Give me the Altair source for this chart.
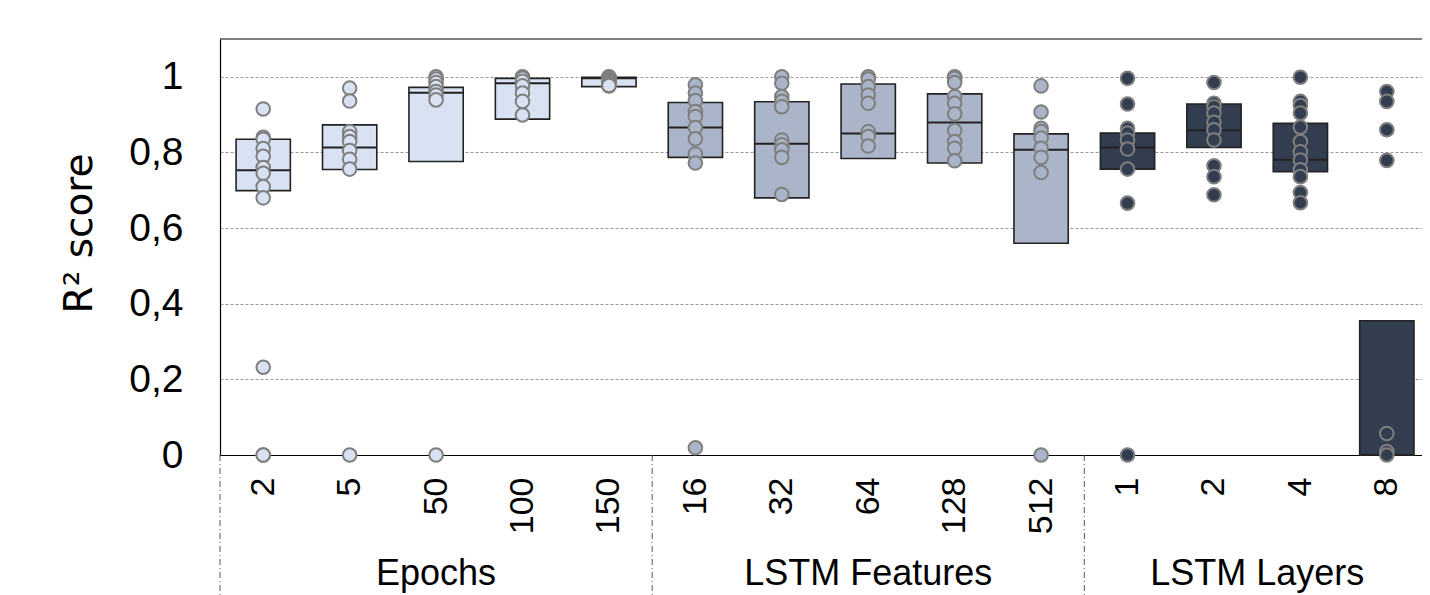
import altair as alt
import pandas as pd

groups = ["Epochs"] * 5 + ["LSTM Features"] * 5 + ["LSTM Layers"] * 4
labels = ["2", "5", "50", "100", "150", "16", "32", "64", "128", "512", "1", "2", "4", "8"]
group_names = ["Epochs", "LSTM Features", "LSTM Layers"]
group_colors = ["#d8e2f3", "#aab5c9", "#323d50"]
group_centers = [2.5, 7.5, 12.0]
separators = [0, 5, 10]

q1 = [0.699, 0.755, 0.776, 0.888, 0.974, 0.787, 0.680, 0.784, 0.772, 0.560, 0.756, 0.813, 0.749, 0.0]
med = [0.753, 0.813, 0.958, 0.983, 0.996, 0.866, 0.823, 0.850, 0.879, 0.807, 0.813, 0.859, 0.781, 0.0]
q3 = [0.835, 0.873, 0.972, 0.996, 0.999, 0.932, 0.934, 0.981, 0.955, 0.849, 0.851, 0.928, 0.877, 0.355]

points = [
    [0.915, 0.84, 0.835, 0.81, 0.79, 0.76, 0.745, 0.71, 0.68, 0.232, 0.0, 0.0],
    [0.97, 0.936, 0.855, 0.842, 0.829, 0.805, 0.782, 0.756, 0.0],
    [1.0, 0.994, 0.985, 0.974, 0.961, 0.952, 0.939, 0.0],
    [1.0, 0.996, 0.988, 0.976, 0.957, 0.935, 0.899],
    [0.976, 0.978, 0.98, 0.982, 0.984, 0.986, 0.988, 0.99, 0.992, 0.994, 0.996, 0.998, 1.0,
     0.999, 0.997, 0.995, 0.993, 0.991, 0.989, 0.987, 0.985, 0.983, 0.981, 0.979, 0.977],
    [0.979, 0.957, 0.937, 0.908, 0.895, 0.866, 0.836, 0.796, 0.772, 0.019],
    [1.0, 0.983, 0.948, 0.935, 0.921, 0.833, 0.82, 0.807, 0.787, 0.689],
    [1.0, 0.994, 0.974, 0.952, 0.93, 0.855, 0.842, 0.817],
    [1.0, 0.996, 0.985, 0.948, 0.93, 0.902, 0.858, 0.829, 0.811, 0.778],
    [0.976, 0.907, 0.864, 0.855, 0.838, 0.811, 0.787, 0.747, 0.0],
    [0.996, 0.928, 0.864, 0.851, 0.833, 0.809, 0.756, 0.666, 0.0],
    [0.985, 0.93, 0.921, 0.904, 0.88, 0.86, 0.833, 0.765, 0.736, 0.688],
    [0.999, 0.935, 0.924, 0.904, 0.867, 0.829, 0.802, 0.78, 0.754, 0.736, 0.694, 0.667],
    [0.961, 0.935, 0.86, 0.779, 0.057, 0.009, 0.0],
]

X_MAX = 13.907  # visible part of the 14 category slots (last slot is cut off at the right edge)

half = 0.314
box_df = pd.DataFrame({
    "center": [i + 0.5 for i in range(14)],
    "left": [i + 0.5 - half for i in range(14)],
    "right": [i + 0.5 + half for i in range(14)],
    "q1": q1, "med": med, "q3": q3, "group": groups,
})
pt_rows = []
for i, vals in enumerate(points):
    for k, v in enumerate(vals):
        pt_rows.append({"center": i + 0.5, "value": v, "group": groups[i], "order": len(pt_rows)})
pt_df = pd.DataFrame(pt_rows)
sep_df = pd.DataFrame({"x": separators})
grp_df = pd.DataFrame({"x": group_centers, "name": group_names})
top_df = pd.DataFrame({"x": [0], "x2": [X_MAX], "y": [1.1]})

xs = alt.Scale(domain=[0, X_MAX], nice=False, zero=False)
ys = alt.Scale(domain=[0, 1.1], nice=False)
cs = alt.Scale(domain=group_names, range=group_colors)

label_arr = "[" + ",".join("'%s'" % l for l in labels) + "]"

x_axis = alt.Axis(
    values=[i + 0.5 for i in range(14)],
    labelExpr=label_arr + "[floor(datum.value)]",
    title=None, grid=False, ticks=False, domain=True, domainColor="black",
    domainWidth=1.2, labelAngle=-90, labelAlign="right", labelBaseline="middle",
    labelPadding=22, labelFontSize=34, labelColor="black", labelFont="Liberation Sans",
)
y_axis = alt.Axis(
    values=[0, 0.2, 0.4, 0.6, 0.8, 1.0],
    labelExpr="replace(format(datum.value, '.1~f'), '.', ',')",
    title="R² score", titleFont="DejaVu Sans", titleFontSize=39, titleFontWeight="normal",
    titleColor="black", titleX=-141, titleY=194, titleAlign="center", titleBaseline="middle",
    titleAngle=270,
    grid=True, gridColor="#999999", gridDash=[3, 2], gridWidth=1,
    ticks=False, domain=True, domainColor="black", domainWidth=1.2,
    labelFontSize=39, labelColor="black", labelFont="Liberation Sans", labelPadding=37,
)

X = lambda f: alt.X(f, scale=xs, axis=x_axis)
Y = lambda f: alt.Y(f, scale=ys, axis=y_axis)

boxes = alt.Chart(box_df).mark_bar(stroke="#222222", strokeWidth=1.6, opacity=1).encode(
    x=X("left:Q"), x2="right:Q", y=Y("q1:Q"), y2="q3:Q",
    color=alt.Color("group:N", scale=cs, legend=None),
)
medians = alt.Chart(box_df).mark_rule(color="#222222", strokeWidth=2).encode(
    x=X("left:Q"), x2="right:Q", y=Y("med:Q"),
)
dots = alt.Chart(pt_df).mark_circle(size=185, opacity=1, stroke="#7f7f7f", strokeWidth=2).encode(
    x=X("center:Q"), y=Y("value:Q"),
    color=alt.Color("group:N", scale=cs, legend=None),
    order=alt.Order("order:Q"),
)
top = alt.Chart(top_df).mark_rule(color="black", strokeWidth=1.2).encode(
    x=X("x:Q"), x2="x2:Q", y=Y("y:Q"),
)
seps = alt.Chart(sep_df).mark_rule(color="#555555", strokeWidth=1, strokeDash=[6, 3, 1, 3]).encode(
    x=X("x:Q"), y=alt.value(416), y2=alt.value(570),
)
glabels = alt.Chart(grp_df).mark_text(
    font="Liberation Sans", fontSize=36, color="black", baseline="alphabetic", align="center"
).encode(
    x=X("x:Q"), y=alt.value(546), text="name:N",
)

chart = alt.layer(boxes, medians, dots, top, seps, glabels).properties(
    width=1202, height=416,
    autosize=alt.AutoSizeParams(type="none"),
    padding={"left": 212, "top": 31, "right": 0, "bottom": 150},
).configure_view(stroke=None)

chart.save("out.html", embed_options={"renderer": "svg", "actions": False})
